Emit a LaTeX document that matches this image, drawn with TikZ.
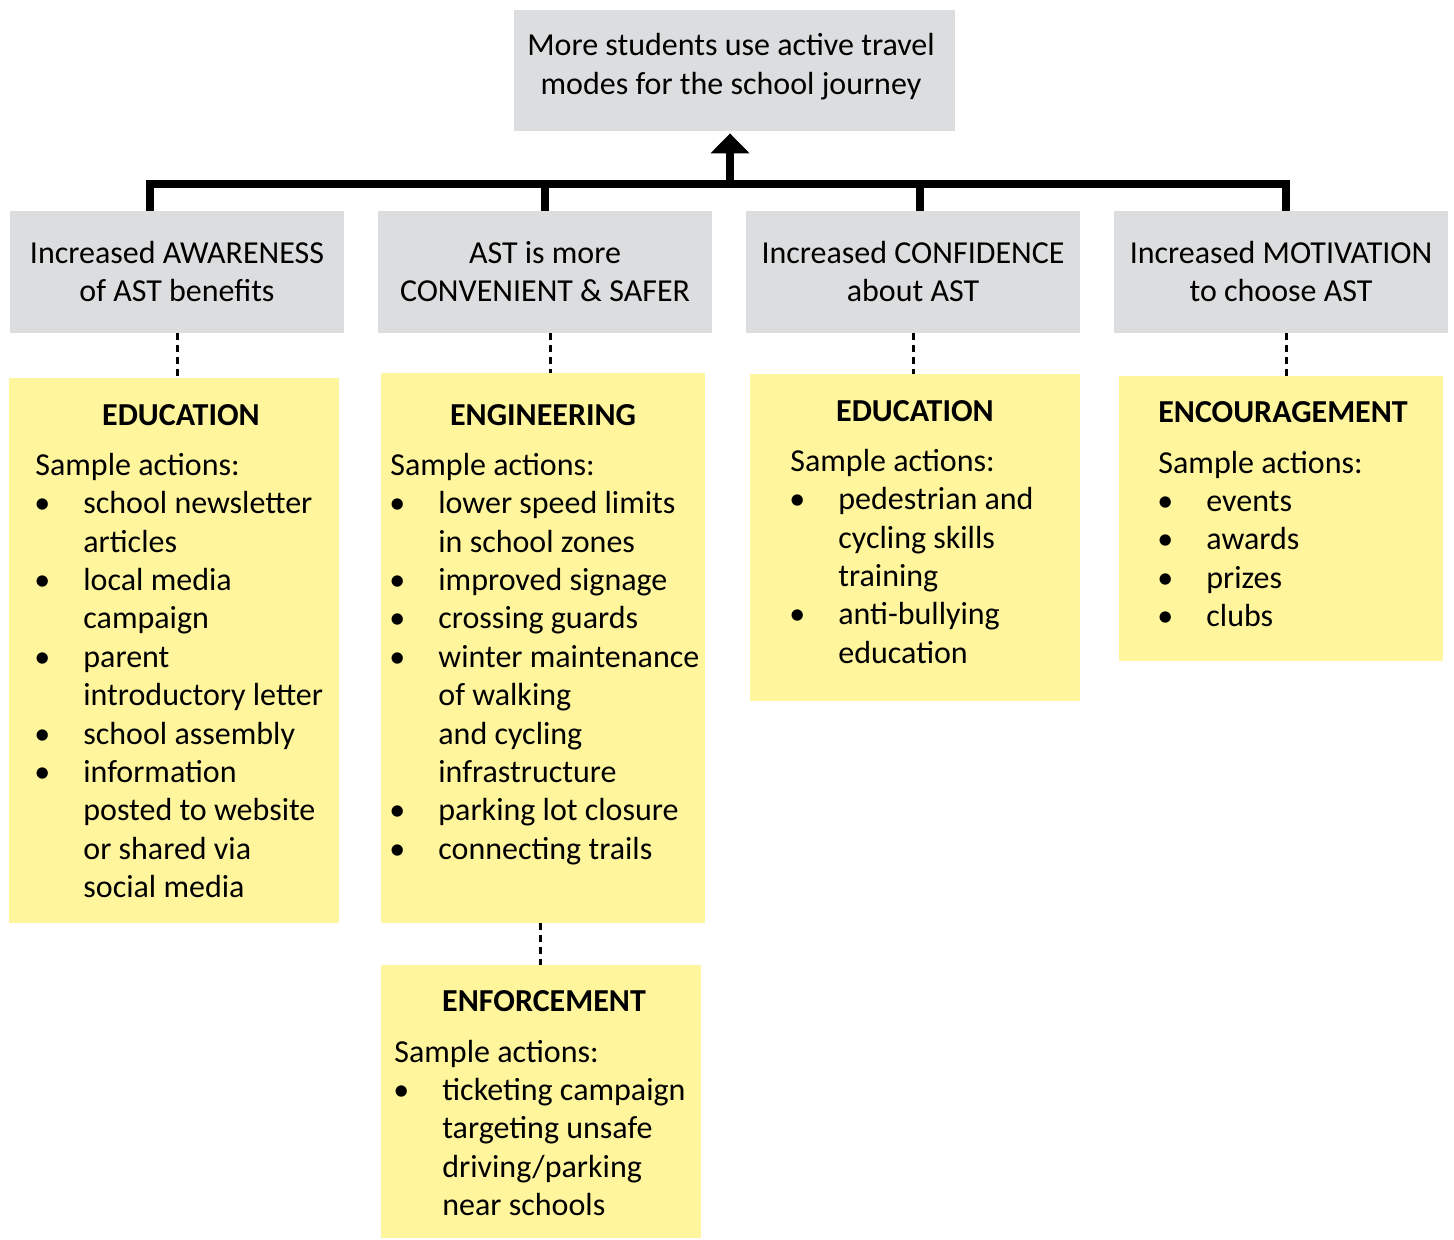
\documentclass[tikz,border=0pt]{standalone}
\usepackage{fontspec}
\setmainfont{Carlito}
\usetikzlibrary{arrows.meta}
\definecolor{boxgray}{RGB}{220,221,222}
\definecolor{boxyellow}{RGB}{255,245,157}
\newcommand{\bitem}[1]{\llap{\textbullet\hspace{16.5pt}}#1}
\begin{document}
\begin{tikzpicture}[x=0.5pt,y=-0.5pt,
  every node/.style={font=\fontsize{16pt}{19.2pt}\selectfont},
  graybox/.style={fill=boxgray, inner sep=0, minimum height=61pt, minimum width=167pt},
  ybox/.style={fill=boxyellow, inner sep=0},
  txt/.style={anchor=base west, inner sep=0, yshift=-0.8pt},
  ctr/.style={anchor=base, inner sep=0, yshift=-0.8pt},
  ttl/.style={anchor=base, inner sep=0, yshift=-0.8pt, font=\fontsize{16pt}{19.2pt}\selectfont\bfseries},
  bus/.style={line width=3.8pt, line join=miter},
  dsh/.style={line width=1.5pt, dash pattern=on 3.5pt off 2.5pt}]
\useasboundingbox (0,0) rectangle (1454,1239);
% boxes
\node[graybox, minimum width=220.5pt, minimum height=60.5pt] (top) at (734.5,70.5) {};
\node[graybox] (g1) at (177,272) {};
\node[graybox] (g2) at (545,272) {};
\node[graybox] (g3) at (913,272) {};
\node[graybox] (g4) at (1281,272) {};
\node[ybox, minimum width=165pt, minimum height=272.5pt] (y1) at (174,650.5) {};
\node[ybox, minimum width=162pt, minimum height=275pt] (y2) at (543,648) {};
\node[ybox, minimum width=165pt, minimum height=163.5pt] (y3) at (915,537.5) {};
\node[ybox, minimum width=162pt, minimum height=142.5pt] (y4) at (1281,518.5) {};
\node[ybox, minimum width=160pt, minimum height=136.5pt] (y5) at (541,1101.5) {};
% connectors
\coordinate (j1) at (150,184);
\coordinate (j2) at (545,184);
\coordinate (j3) at (920,184);
\coordinate (j4) at (1286,184);
\coordinate (jm) at (730,184);
\draw[bus] (j1 |- g1.north) -- (j1) -- (j4) -- (j4 |- g4.north);
\draw[bus] (j2) -- (j2 |- g2.north);
\draw[bus] (j3) -- (j3 |- g3.north);
\draw[line width=3.6pt, -{Triangle[width=19pt,length=10pt]}] (jm) -- ([yshift=-1pt]jm |- top.south);
\draw[dsh] (g1.south) -- (g1.south |- y1.north);
\draw[dsh] ([xshift=2.5pt]g2.south) -- ([xshift=2.5pt]g2.south |- y2.north);
\draw[dsh] (g3.south) -- (g3.south |- y3.north);
\draw[dsh] ([xshift=2.5pt]g4.south) -- ([xshift=2.5pt]g4.south |- y4.north);
\draw[dsh] ([xshift=-1.5pt]y2.south) -- ([xshift=-1.5pt]y2.south |- y5.north);
% top text
\node[ctr] (tt1) at (731,53.5) {More students use active travel};
\node[ctr] (tt2) at (731,92.5) {modes for the school journey};
% gray texts
\node[ctr] (g1a) at (177,261.5) {Increased AWARENESS};
\node[ctr] (g1b) at (177,299.5) {of AST benefits};
\node[ctr] (g2a) at (545,261.5) {AST is more};
\node[ctr] (g2b) at (545,299.5) {CONVENIENT \& SAFER};
\node[ctr] (g3a) at (913,261.5) {Increased CONFIDENCE};
\node[ctr] (g3b) at (913,299.5) {about AST};
\node[ctr] (g4a) at (1281,261.5) {Increased MOTIVATION};
\node[ctr] (g4b) at (1281,299.5) {to choose AST};
% box 1
\node[ttl] (h1) at (181,423.5) {EDUCATION};
\node[txt] (s1) at (35,473.5) {Sample actions:};
\node[txt] (a1) at (83,512) {\bitem{school newsletter}};
\node[txt] (a2) at (83,550.4) {articles};
\node[txt] (a3) at (83,588.8) {\bitem{local media}};
\node[txt] (a4) at (83,627.2) {campaign};
\node[txt] (a5) at (83,665.6) {\bitem{parent}};
\node[txt] (a6) at (83,704) {introductory letter};
\node[txt] (a7) at (83,742.4) {\bitem{school assembly}};
\node[txt] (a8) at (83,780.8) {\bitem{information}};
\node[txt] (a9) at (83,819.2) {posted to website};
\node[txt] (a10) at (83,857.6) {or shared via};
\node[txt] (a11) at (83,896) {social media};
% box 2
\node[ttl] (h2) at (543,423.5) {ENGINEERING};
\node[txt] (s2) at (390,473.5) {Sample actions:};
\node[txt] (b1) at (438,512) {\bitem{lower speed limits}};
\node[txt] (b2) at (438,550.4) {in school zones};
\node[txt] (b3) at (438,588.8) {\bitem{improved signage}};
\node[txt] (b4) at (438,627.2) {\bitem{crossing guards}};
\node[txt] (b5) at (438,665.6) {\bitem{winter maintenance}};
\node[txt] (b6) at (438,704) {of walking};
\node[txt] (b7) at (438,742.4) {and cycling};
\node[txt] (b8) at (438,780.8) {infrastructure};
\node[txt] (b9) at (438,819.2) {\bitem{parking lot closure}};
\node[txt] (b10) at (438,857.6) {\bitem{connecting trails}};
% box 3
\node[ttl] (h3) at (915,419.5) {EDUCATION};
\node[txt] (s3) at (790,469.5) {Sample actions:};
\node[txt] (c1) at (838,508) {\bitem{pedestrian and}};
\node[txt] (c2) at (838,546.4) {cycling skills};
\node[txt] (c3) at (838,584.8) {training};
\node[txt] (c4) at (838,623.2) {\bitem{anti-bullying}};
\node[txt] (c5) at (838,661.6) {education};
% box 4
\node[ttl] (h4) at (1283,420.5) {ENCOURAGEMENT};
\node[txt] (s4) at (1158,471.5) {Sample actions:};
\node[txt] (d1) at (1206,509.5) {\bitem{events}};
\node[txt] (d2) at (1206,548) {\bitem{awards}};
\node[txt] (d3) at (1206,586.4) {\bitem{prizes}};
\node[txt] (d4) at (1206,624.8) {\bitem{clubs}};
% box 5
\node[ttl] (h5) at (544,1009.5) {ENFORCEMENT};
\node[txt] (s5) at (394,1060.5) {Sample actions:};
\node[txt] (e1) at (442,1098.5) {\bitem{ticketing campaign}};
\node[txt] (e2) at (442,1137) {targeting unsafe};
\node[txt] (e3) at (442,1175.4) {driving/parking};
\node[txt] (e4) at (442,1213.8) {near schools};
\end{tikzpicture}
\end{document}
